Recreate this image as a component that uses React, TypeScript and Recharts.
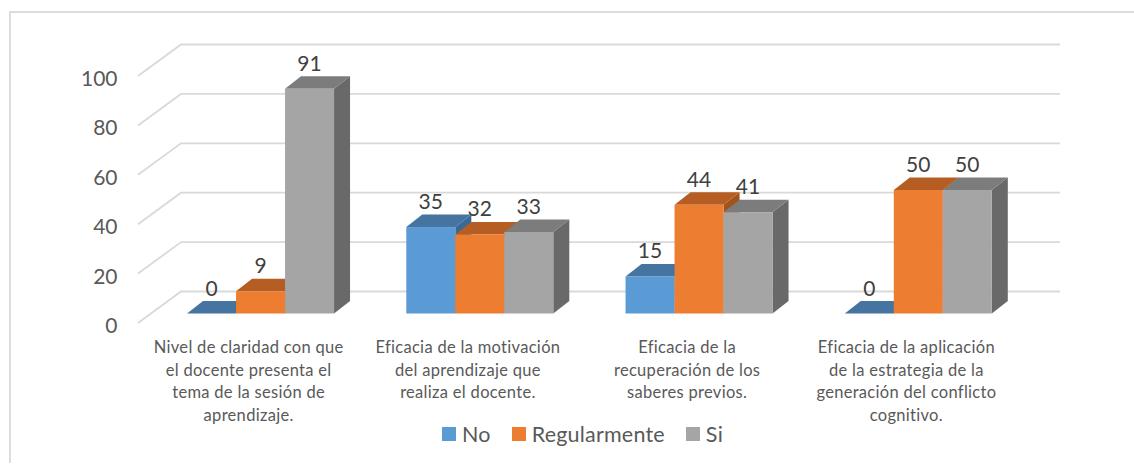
import React from "react";
import { BarChart, Bar, XAxis, YAxis, CartesianGrid, Legend, LabelList } from "recharts";

const categories = [
  "Nivel de claridad con que\nel docente presenta el\ntema de la sesión de\naprendizaje.",
  "Eficacia de la motivación\ndel aprendizaje que\nrealiza el docente.",
  "Eficacia de la\nrecuperación de los\nsaberes previos.",
  "Eficacia de la aplicación\nde la estrategia de la\ngeneración del conflicto\ncognitivo.",
];
const noValues = [0, 35, 15, 0];
const regularValues = [9, 32, 44, 50];
const siValues = [91, 33, 41, 50];
const yTicks = [0, 20, 40, 60, 80, 100];

const data = categories.map((name, i) => ({
  name,
  No: noValues[i],
  Regularmente: regularValues[i],
  Si: siValues[i],
}));

const FONT = "Lato, Carlito, sans-serif";
const DX = 16;
const DY = 12.5;

function Box3D(props: any) {
  const { x, y, width, height, fill, topFill, sideFill } = props;
  const r = x + width;
  const b = y + height;
  return (
    <g>
      <polygon points={`${r},${y} ${r + DX},${y - DY} ${r + DX},${b - DY} ${r},${b}`} fill={sideFill} />
      <polygon points={`${x},${y} ${x + DX},${y - DY} ${r + DX},${y - DY} ${r},${y}`} fill={topFill} />
      {height > 0 && <rect x={x} y={y} width={width} height={height} fill={fill} />}
    </g>
  );
}

function gridLine(props: any) {
  const { x1, x2, y1 } = props;
  return (
    <polyline
      key={`g-${y1}`}
      points={`${x1 - 12.5},${y1 + 9.5} ${x1 + 30.5},${y1 - 22} ${x2 + 32.5},${y1 - 22}`}
      fill="none"
      stroke="#D9D9D9"
      strokeWidth={1.8}
    />
  );
}

function YTick(props: any) {
  const { y, payload } = props;
  return (
    <text x={117.5} y={y + 19.5} textAnchor="end" fontFamily={FONT} fontSize={21} fill="#595959">
      {payload.value}
    </text>
  );
}

function XTick(props: any) {
  const { x, payload } = props;
  const lines = String(payload.value).split("\n");
  return (
    <text textAnchor="middle" fontFamily={FONT} fontSize={16.5} letterSpacing={0.3} fill="#595959">
      {lines.map((l: string, i: number) => (
        <tspan key={i} x={x - 11.5} y={353 + i * 22.7}>
          {l}
        </tspan>
      ))}
    </text>
  );
}

function LegendBox(props: any) {
  const items = props.payload || [];
  return (
    <div style={{ display: "flex", gap: 21, fontFamily: FONT, fontSize: 21.5, letterSpacing: 0.2, color: "#595959", lineHeight: "28px", whiteSpace: "nowrap" }}>
      {items.map((it: any) => (
        <div key={it.value} style={{ display: "flex", alignItems: "center" }}>
          <span style={{ width: 14, height: 14, background: it.color, marginRight: 6, display: "inline-block" }} />
          <span>{it.value}</span>
        </div>
      ))}
    </div>
  );
}

const labelProps = { position: "top" as const, offset: 18, fontFamily: FONT, fontSize: 21, fill: "#404040" };

export default function App() {
  return (
    <div style={{ position: "absolute", left: 0, top: 0, width: 1134, height: 464, overflow: "hidden", background: "#fff" }}>
      <div style={{ position: "absolute", left: 9, top: 11, right: 0, bottom: 1, borderLeft: "2px solid #DDDDDD", borderTop: "2px solid #DDDDDD" }} />
      <div style={{ position: "absolute", left: 0, top: 0 }}>
        <BarChart
          width={1134}
          height={464}
          data={data}
          margin={{ left: 149.5, right: 106.5, top: 66.5, bottom: 149.5 }}
          barCategoryGap="16.667%"
          barGap={0}
          style={{ background: "transparent" }}
        >
          <CartesianGrid vertical={false} horizontal={gridLine} />
          <XAxis dataKey="name" interval={0} height={1} axisLine={false} tickLine={false} tick={(p: any) => <XTick {...p} />} />
          <YAxis width={1} domain={[0, 100]} ticks={yTicks} axisLine={false} tickLine={false} tick={(p: any) => <YTick {...p} />} />
          <Legend
            layout="horizontal"
            verticalAlign="middle"
            content={<LegendBox />}
            wrapperStyle={{ position: "absolute", left: 442, top: 420, width: "auto" }}
          />
          <Bar dataKey="No" fill="#5B9BD5" isAnimationActive={false} shape={(p: any) => <Box3D {...p} topFill="#44749F" sideFill="#376A96" />}>
            <LabelList dataKey="No" {...labelProps} />
          </Bar>
          <Bar dataKey="Regularmente" fill="#ED7D31" isAnimationActive={false} shape={(p: any) => <Box3D {...p} topFill="#B55D22" sideFill="#A4521C" />}>
            <LabelList dataKey="Regularmente" {...labelProps} />
          </Bar>
          <Bar dataKey="Si" fill="#A5A5A5" isAnimationActive={false} shape={(p: any) => <Box3D {...p} topFill="#7C7C7C" sideFill="#696969" />}>
            <LabelList dataKey="Si" {...labelProps} />
          </Bar>
        </BarChart>
      </div>
    </div>
  );
}
